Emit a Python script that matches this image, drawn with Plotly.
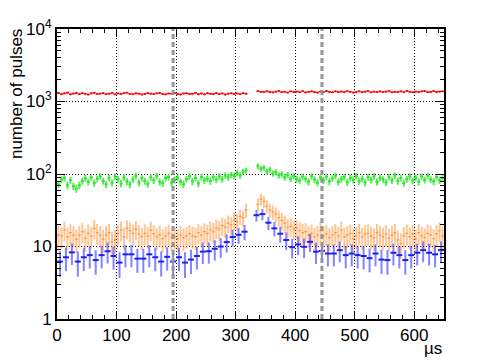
import numpy as np
import plotly.graph_objects as go

# bin widths in microseconds
w_fine = 5.0
w_blue = 10.0

# red: all pulses (5 us bins), gap 320-335 us
red = [1310, 1265, 1295, 1325, 1255, 1285, 1310, 1260, 1300, 1275,
       1250, 1295, 1320, 1265, 1285, 1305, 1260, 1280, 1315, 1255,
       1290, 1270, 1300, 1325, 1275, 1260, 1295, 1285, 1250, 1270,
       1305, 1280, 1260, 1295, 1315, 1270, 1255, 1290, 1280, 1305,
       1265, 1250, 1290, 1300, 1270, 1280, 1315, 1260, 1290, 1255,
       1300, 1280, 1270, 1305, 1265, 1290, 1250, 1280, 1300, 1270,
       1290, 1260, 1305, 1280, None, None, None, 1390, 1360, 1345,
       1380, 1350, 1335, 1370, 1395, 1345, 1365, 1330, 1380, 1350,
       1370, 1345, 1390, 1335, 1360, 1380, 1350, 1330, 1370, 1345,
       1395, 1360, 1340, 1380, 1350, 1370, 1345, 1390, 1360, 1330,
       1350, 1380, 1345, 1370, 1395, 1340, 1365, 1350, 1380, 1345,
       1370, 1390, 1340, 1360, 1350, 1380, 1345, 1400, 1360, 1340,
       1370, 1350, 1380, 1395, 1345, 1360, 1390, 1350, 1370, 1380]

green = [72, 84, 88, 70, 82, 68, 63, 70, 80, 88,
         78, 90, 75, 86, 93, 80, 72, 88, 76, 92,
         85, 74, 90, 79, 72, 84, 94, 76, 88, 80,
         73, 90, 82, 94, 78, 75, 88, 91, 76, 83,
         89, 78, 72, 85, 93, 79, 88, 74, 91, 82,
         86, 80, 91, 84, 93, 85, 95, 90, 97, 94,
         103, 96, 108, 112, None, None, None, 128, 118, 122,
         108, 115, 102, 106, 96, 99, 90, 97, 86, 94,
         85, 81, 92, 86, 78, 93, 84, 76, 90, 82,
         92, 79, 87, 95, 78, 85, 91, 77, 88, 83,
         94, 80, 86, 76, 91, 83, 93, 78, 88, 84,
         77, 91, 82, 95, 80, 88, 75, 85, 93, 81,
         89, 78, 92, 83, 95, 84, 79, 91, 82, 88]

orange = [14.4, 14.0, 16.9, 13.6, 15.5, 14.4, 12.6, 14.4, 16.0, 13.0,
          15.2, 14.0, 17.8, 15.5, 14.4, 12.6, 14.4, 15.5, 11.6, 12.3,
          15.2, 16.9, 13.6, 17.8, 16.5, 15.2, 17.4, 14.9, 13.6, 15.2,
          14.0, 16.9, 15.0, 13.6, 14.5, 12.8, 14.0, 15.2, 13.2, 13.6,
          12.8, 14.4, 13.2, 14.0, 15.0, 14.0, 13.6, 15.5, 14.4, 16.0,
          15.2, 17.0, 16.0, 18.0, 17.4, 19.5, 18.5, 21.0, 20.0, 23.0,
          22.0, 26.0, 25.0, 32.0, None, None, None, 38.0, 45.0, 42.0,
          36.0, 32.0, 30.0, 28.0, 25.0, 23.0, 21.0, 18.5, 19.0, 17.5,
          18.0, 16.5, 15.5, 16.0, 14.4, 15.2, 13.6, 14.4, 16.5, 14.0,
          15.0, 13.2, 14.4, 15.5, 14.0, 16.9, 13.6, 14.4, 15.2, 12.8,
          14.0, 15.5, 13.6, 14.9, 15.2, 14.0, 13.2, 15.5, 14.4, 13.6,
          14.9, 13.0, 14.4, 15.5, 12.3, 11.0, 14.0, 15.2, 13.6, 14.9,
          12.8, 15.5, 14.0, 13.2, 15.2, 14.4, 12.8, 14.9, 16.5, 14.0]

blue = [6.2, 7.1, 8.3, 6.2, 7.1, 7.6, 6.5, 7.6, 8.6, 7.4,
        6.0, 7.8, 7.8, 6.8, 6.8, 7.8, 7.1, 6.2, 7.2, 6.2,
        7.1, 6.0, 6.6, 7.4, 8.5, 8.6, 9.3, 10.0, 11.5, 13.5,
        14.5, 16.0, None, 27.0, 28.0, 21.3, 17.8, 15.0, 12.3, 9.8,
        10.7, 9.9, 11.6, 8.5, 8.7, 8.0, 8.0, 8.9, 7.6, 8.0,
        7.6, 7.4, 6.9, 8.0, 6.6, 6.5, 8.2, 7.6, 6.5, 7.6,
        8.2, 8.9, 8.2, 7.8, 8.9]

cut_lines = [195, 445]
x_ticks = [0, 100, 200, 300, 400, 500, 600]
y_ticks = [1, 10, 100, 1000, 10000]
y_ticktext = ["1", "10", "10<sup>2</sup>", "10<sup>3</sup>", "10<sup>4</sup>"]


def hist_trace(vals, width, err_scale, vcol, hcol, vthick, hthick):
    v = np.array([np.nan if a is None else a for a in vals], dtype=float)
    x = np.arange(len(v)) * width + width / 2
    return go.Scatter(
        x=x, y=v, mode="markers",
        marker=dict(size=1, color=hcol),
        error_y=dict(type="data", array=err_scale * np.sqrt(v), width=0,
                     thickness=vthick, color=vcol),
        error_x=dict(type="constant", value=width / 2, width=0,
                     thickness=hthick, color=hcol),
        showlegend=False, hoverinfo="skip",
    )


fig = go.Figure()
fig.add_trace(hist_trace(red, w_fine, 1.0, "rgb(255,30,30)", "rgb(255,0,0)", 1.5, 1.5))
fig.add_trace(hist_trace(green, w_fine, 1.0, "rgba(60,235,60,0.85)", "rgb(50,230,50)", 2, 2))
fig.add_trace(hist_trace(orange, w_fine, 1.25, "rgba(255,150,60,0.55)", "rgba(255,140,40,0.9)", 2, 1))
fig.add_trace(hist_trace(blue, w_blue, 0.95, "rgba(50,50,255,0.6)", "rgb(30,30,240)", 2, 2))

for xc in cut_lines:
    fig.add_shape(type="line", x0=xc, x1=xc, y0=0, y1=1, xref="x", yref="paper",
                  line=dict(color="rgb(150,150,150)", width=3, dash="5px,3px"),
                  layer="above")

font = dict(family="Liberation Sans, Arial, sans-serif", size=17, color="black")

# page body keeps an 8px margin, so the figure is shrunk by that
fig.update_layout(
    width=475, height=355,
    margin=dict(l=49, r=39, t=21, b=44, autoexpand=False),
    paper_bgcolor="white", plot_bgcolor="white",
    font=font,
    xaxis=dict(range=[0, 650], tickvals=x_ticks, ticks="inside", ticklen=8,
               tickcolor="black", tickwidth=1,
               minor=dict(ticks="inside", dtick=20, ticklen=4, tickcolor="black", showgrid=False),
               showgrid=True, gridcolor="black", griddash="1px,2px", gridwidth=1,
               showline=True, linecolor="black", linewidth=2, mirror="ticks",
               zeroline=False, automargin=False),
    yaxis=dict(type="log", range=[0, 4], tickvals=y_ticks, ticktext=y_ticktext,
               ticks="inside", ticklen=8, tickcolor="black", tickwidth=1,
               minor=dict(ticks="inside", ticklen=4, tickcolor="black", showgrid=False,
                          tickvals=[m * 10 ** d for d in range(4) for m in range(2, 10)]),
               showgrid=True, gridcolor="black", griddash="1px,2px", gridwidth=1,
               showline=True, linecolor="black", linewidth=2, mirror="ticks",
               zeroline=False, automargin=False),
    annotations=[
        dict(text="number of pulses", xref="paper", yref="paper",
             x=(16 - 57) / 387, y=(318.7 - 94) / 289.7, textangle=-90,
             showarrow=False, xanchor="center", yanchor="middle",
             font=dict(family=font["family"], size=17, color="black")),
        dict(text="µs", xref="paper", yref="paper",
             x=1.0, y=-(348 - 318.7) / 289.7, showarrow=False,
             xanchor="right", yanchor="middle",
             font=dict(family=font["family"], size=17, color="black")),
    ],
)

fig.write_html("out.html")
